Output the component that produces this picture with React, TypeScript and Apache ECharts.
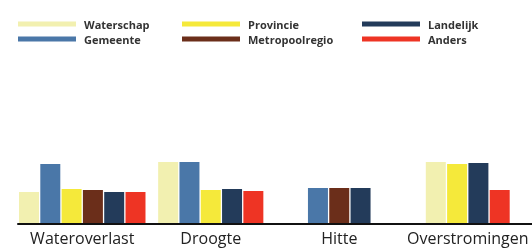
import React, { useEffect, useRef } from "react";
import * as echarts from "echarts";

const categories = ["Wateroverlast", "Droogte", "Hitte", "Overstromingen"];
const seriesNames = ["Waterschap", "Gemeente", "Provincie", "Metropoolregio", "Landelijk", "Anders"];
const seriesColors = ["#f2f0b0", "#4a77a8", "#f5e93a", "#6b2e1a", "#233b5a", "#ee3424"];
const waterschap = [32, 62, 0, 62];
const gemeente = [60, 62, 36, 0];
const provincie = [35, 34, 0, 60];
const metropoolregio = [34, 0, 36, 0];
const landelijk = [32, 35, 36, 61];
const anders = [32, 33, 0, 34];
const seriesValues = [waterschap, gemeente, provincie, metropoolregio, landelijk, anders];

const BAR_W = 20;
const STEP = 21.3;

export default function App() {
  const ref = useRef<HTMLDivElement>(null);
  useEffect(() => {
    if (!ref.current) return;
    const chart = echarts.init(ref.current, null, { renderer: "svg" });
    const series = seriesNames.map((name, s) => ({
      type: "custom",
      name,
      itemStyle: { color: seriesColors[s] },
      data: categories.map((_, i) => [i, seriesValues[s][i]]),
      renderItem: (params: any, api: any) => {
        const i = api.value(0);
        const v = api.value(1);
        if (!v) return null;
        const present = seriesValues.map((arr) => arr[i] > 0);
        const n = present.filter(Boolean).length;
        let k = 0;
        for (let j = 0; j < s; j++) if (present[j]) k++;
        const base = api.coord([i, 0]);
        const top = api.coord([i, v]);
        const x0 = base[0] - (n * STEP) / 2 + k * STEP + (STEP - BAR_W) / 2;
        return {
          type: "rect",
          shape: { x: x0, y: top[1], width: BAR_W, height: base[1] - top[1] - 1 },
          style: { fill: seriesColors[s] },
        };
      },
    }));
    const legendText = {
      fontFamily: "Open Sans",
      fontSize: 11,
      fontWeight: "bold",
      color: "#333",
      lineHeight: 14,
      padding: [0, 0, 0, 3],
    };
    const mkLegend = (left: number, data: string[]) => ({
      left,
      top: 17,
      padding: 0,
      orient: "vertical",
      itemWidth: 58,
      itemHeight: 5,
      itemGap: 1,
      icon: "rect",
      data,
      textStyle: legendText,
      selectedMode: false,
    });
    chart.setOption({
      animation: false,
      color: seriesColors,
      legend: [
        mkLegend(18, ["Waterschap", "Gemeente"]),
        mkLegend(182, ["Provincie", "Metropoolregio"]),
        mkLegend(362, ["Landelijk", "Anders"]),
      ],
      grid: { left: 18, right: 0, top: 124, bottom: 26 },
      xAxis: {
        type: "category",
        data: categories,
        axisLine: { lineStyle: { color: "#111", width: 2 } },
        axisTick: { show: false },
        axisLabel: {
          interval: 0,
          fontFamily: "Open Sans",
          fontSize: 16,
          lineHeight: 16,
          color: "#222",
          margin: 6,
        },
      },
      yAxis: { type: "value", min: 0, max: 100, show: false, splitLine: { show: false } },
      series,
    });
    return () => chart.dispose();
  }, []);
  return <div ref={ref} style={{ position: "fixed", left: 0, top: 0, width: 532, height: 250 }} />;
}
